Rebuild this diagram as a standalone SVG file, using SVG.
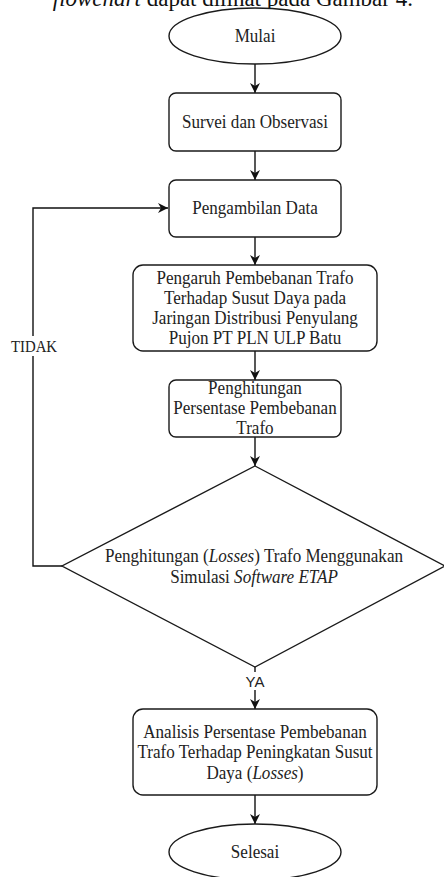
<svg xmlns="http://www.w3.org/2000/svg" width="444" height="877" viewBox="0 0 444 877">
<defs>
<marker id="ah" viewBox="0 0 10 10" refX="10" refY="5" markerWidth="10" markerHeight="10" markerUnits="userSpaceOnUse" orient="auto">
<path d="M0,0 L10,5 L0,10 L3,5 Z" fill="#111"/>
</marker>
</defs>
<style>
.s{fill:#fff;stroke:#1a1a1a;stroke-width:1.4}
.t{font-family:'Liberation Serif',serif;font-size:19.5px;fill:#222;text-anchor:middle}
.c{fill:none;stroke:#111;stroke-width:1.4}
.l{font-family:'Liberation Serif',serif;font-size:16.5px;fill:#222;text-anchor:middle}
.ls{font-family:'Liberation Sans',sans-serif;font-size:15px;fill:#222;text-anchor:middle}
</style>
<rect width="444" height="877" fill="#fff"/>
<text x="413" y="6" font-family="Liberation Serif,serif" font-size="23" fill="#111" text-anchor="end"><tspan font-style="italic">flowchart</tspan> dapat dilihat pada Gambar 4.</text>
<g id="connectors">
<line class="c" x1="255" y1="64" x2="255" y2="93" marker-end="url(#ah)"/>
<line class="c" x1="255" y1="151" x2="255" y2="180" marker-end="url(#ah)"/>
<line class="c" x1="255" y1="237" x2="255" y2="265" marker-end="url(#ah)"/>
<line class="c" x1="255" y1="351" x2="255" y2="380" marker-end="url(#ah)"/>
<line class="c" x1="255" y1="437" x2="255" y2="466" marker-end="url(#ah)"/>
<polyline class="c" points="62,566 33,566 33,208 168,208" marker-end="url(#ah)"/>
<line class="c" x1="255" y1="667" x2="255" y2="709" marker-end="url(#ah)"/>
<line class="c" x1="255" y1="795" x2="255" y2="824" marker-end="url(#ah)"/>
<rect x="8" y="336" width="52" height="20" fill="#fff"/>
<text class="l" transform="translate(34 0) scale(0.9 1)" x="0" y="352">TIDAK</text>
<rect x="241" y="672" width="28" height="18" fill="#fff"/>
<text class="ls" x="255" y="687">YA</text>
</g>
<g id="mulai">
<ellipse class="s" cx="255" cy="36" rx="86" ry="28"/>
<g transform="translate(255 0) scale(0.875 1)"><text class="t" x="0" y="42">Mulai</text></g>
</g>
<g id="survei">
<rect class="s" x="169" y="93" width="172" height="58" rx="7"/>
<g transform="translate(255 0) scale(0.875 1)"><text class="t" x="0" y="128">Survei dan Observasi</text></g>
</g>
<g id="pengambilan">
<rect class="s" x="169" y="180" width="172" height="57" rx="7"/>
<g transform="translate(255 0) scale(0.875 1)"><text class="t" x="0" y="214">Pengambilan Data</text></g>
</g>
<g id="pengaruh">
<rect class="s" x="133" y="265" width="244" height="86" rx="10"/>
<g transform="translate(255 0) scale(0.875 1)">
<text class="t" x="0" y="284">Pengaruh Pembebanan Trafo</text>
<text class="t" x="0" y="304">Terhadap Susut Daya pada</text>
<text class="t" x="0" y="324">Jaringan Distribusi Penyulang</text>
<text class="t" x="0" y="344">Pujon PT PLN ULP Batu</text>
</g>
</g>
<g id="persentase">
<rect class="s" x="169" y="380" width="172" height="57" rx="7"/>
<g transform="translate(255 0) scale(0.875 1)">
<text class="t" x="0" y="394">Penghitungan</text>
<text class="t" x="0" y="414">Persentase Pembebanan</text>
<text class="t" x="0" y="434">Trafo</text>
</g>
</g>
<g id="losses">
<polygon class="s" points="255,466 445,566 255,667 62,566"/>
<g transform="translate(254 0) scale(0.875 1)">
<text class="t" x="0" y="562">Penghitungan (<tspan font-style="italic">Losses</tspan>) Trafo Menggunakan</text>
<text class="t" x="0" y="583">Simulasi <tspan font-style="italic">Software ETAP</tspan></text>
</g>
</g>
<g id="analisis">
<rect class="s" x="133" y="709" width="244" height="86" rx="10"/>
<g transform="translate(255 0) scale(0.875 1)">
<text class="t" x="0" y="738">Analisis Persentase Pembebanan</text>
<text class="t" x="0" y="758">Trafo Terhadap Peningkatan Susut</text>
<text class="t" x="0" y="779">Daya (<tspan font-style="italic">Losses</tspan>)</text>
</g>
</g>
<g id="selesai">
<ellipse class="s" cx="255" cy="852" rx="86" ry="28"/>
<g transform="translate(255 0) scale(0.875 1)"><text class="t" x="0" y="858">Selesai</text></g>
</g>
</svg>
